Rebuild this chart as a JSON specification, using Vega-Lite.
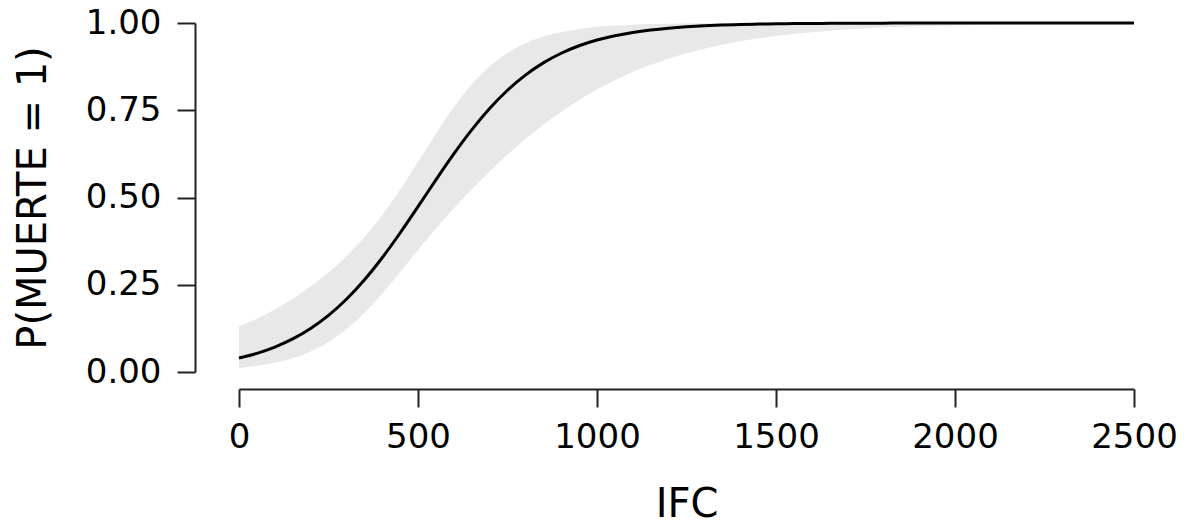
{
  "$schema": "https://vega.github.io/schema/vega-lite/v6.json",
  "width": 895,
  "height": 349,
  "autosize": "none",
  "padding": {"left": 239, "top": 23, "right": 61, "bottom": 157},
  "background": "white",
  "config": {
    "view": {"stroke": null},
    "font": "DejaVu Sans",
    "axis": {
      "grid": false,
      "domainColor": "#222222",
      "domainWidth": 2,
      "tickColor": "#222222",
      "tickWidth": 2,
      "tickSize": 18,
      "labelFont": "DejaVu Sans",
      "labelFontSize": 34,
      "labelColor": "black",
      "titleFont": "DejaVu Sans",
      "titleFontSize": 40,
      "titleFontWeight": "normal",
      "titleColor": "black"
    }
  },
  "data": {
    "values": [
      {"x": 0, "p": 0.0399, "lo": 0.0114, "hi": 0.1301},
      {"x": 50, "p": 0.0535, "lo": 0.0174, "hi": 0.1528},
      {"x": 100, "p": 0.0714, "lo": 0.0264, "hi": 0.1793},
      {"x": 150, "p": 0.0947, "lo": 0.0396, "hi": 0.2097},
      {"x": 200, "p": 0.1246, "lo": 0.0588, "hi": 0.2448},
      {"x": 250, "p": 0.1621, "lo": 0.0858, "hi": 0.2852},
      {"x": 300, "p": 0.2083, "lo": 0.1223, "hi": 0.3320},
      {"x": 350, "p": 0.2636, "lo": 0.1691, "hi": 0.3863},
      {"x": 400, "p": 0.3274, "lo": 0.2250, "hi": 0.4494},
      {"x": 450, "p": 0.3983, "lo": 0.2865, "hi": 0.5219},
      {"x": 500, "p": 0.4738, "lo": 0.3494, "hi": 0.6015},
      {"x": 550, "p": 0.5505, "lo": 0.4105, "hi": 0.6828},
      {"x": 600, "p": 0.6248, "lo": 0.4686, "hi": 0.7587},
      {"x": 650, "p": 0.6937, "lo": 0.5234, "hi": 0.8236},
      {"x": 700, "p": 0.7549, "lo": 0.5748, "hi": 0.8753},
      {"x": 750, "p": 0.8073, "lo": 0.6228, "hi": 0.9140},
      {"x": 800, "p": 0.8507, "lo": 0.6674, "hi": 0.9418},
      {"x": 850, "p": 0.8857, "lo": 0.7084, "hi": 0.9611},
      {"x": 900, "p": 0.9133, "lo": 0.7457, "hi": 0.9743},
      {"x": 950, "p": 0.9348, "lo": 0.7793, "hi": 0.9831},
      {"x": 1000, "p": 0.9512, "lo": 0.8094, "hi": 0.9889},
      {"x": 1050, "p": 0.9637, "lo": 0.8361, "hi": 0.9928},
      {"x": 1100, "p": 0.9730, "lo": 0.8596, "hi": 0.9953},
      {"x": 1150, "p": 0.9800, "lo": 0.8801, "hi": 0.9970},
      {"x": 1200, "p": 0.9852, "lo": 0.8979, "hi": 0.9980},
      {"x": 1250, "p": 0.9891, "lo": 0.9133, "hi": 0.9987},
      {"x": 1300, "p": 0.9920, "lo": 0.9265, "hi": 0.9992},
      {"x": 1350, "p": 0.9941, "lo": 0.9379, "hi": 0.9995},
      {"x": 1400, "p": 0.9956, "lo": 0.9476, "hi": 0.9997},
      {"x": 1450, "p": 0.9968, "lo": 0.9558, "hi": 0.9998},
      {"x": 1500, "p": 0.9976, "lo": 0.9627, "hi": 0.9999},
      {"x": 1550, "p": 0.9983, "lo": 0.9686, "hi": 0.9999},
      {"x": 1600, "p": 0.9987, "lo": 0.9736, "hi": 0.9999},
      {"x": 1650, "p": 0.9991, "lo": 0.9778, "hi": 1.0},
      {"x": 1700, "p": 0.9993, "lo": 0.9814, "hi": 1.0},
      {"x": 1750, "p": 0.9995, "lo": 0.9844, "hi": 1.0},
      {"x": 1800, "p": 0.9996, "lo": 0.9869, "hi": 1.0},
      {"x": 1850, "p": 0.9997, "lo": 0.9890, "hi": 1.0},
      {"x": 1900, "p": 0.9998, "lo": 0.9908, "hi": 1.0},
      {"x": 1950, "p": 0.9999, "lo": 0.9923, "hi": 1.0},
      {"x": 2000, "p": 0.9999, "lo": 0.9935, "hi": 1.0},
      {"x": 2050, "p": 0.9999, "lo": 0.9946, "hi": 1.0},
      {"x": 2100, "p": 0.9999, "lo": 0.9955, "hi": 1.0},
      {"x": 2150, "p": 1.0, "lo": 0.9962, "hi": 1.0},
      {"x": 2200, "p": 1.0, "lo": 0.9968, "hi": 1.0},
      {"x": 2250, "p": 1.0, "lo": 0.9973, "hi": 1.0},
      {"x": 2300, "p": 1.0, "lo": 0.9978, "hi": 1.0},
      {"x": 2350, "p": 1.0, "lo": 0.9981, "hi": 1.0},
      {"x": 2400, "p": 1.0, "lo": 0.9984, "hi": 1.0},
      {"x": 2450, "p": 1.0, "lo": 0.9987, "hi": 1.0},
      {"x": 2500, "p": 1.0, "lo": 0.9989, "hi": 1.0}
    ]
  },
  "layer": [
    {
      "mark": {"type": "area", "color": "#e8e8e8", "interpolate": "monotone"},
      "encoding": {
        "x": {
          "field": "x", "type": "quantitative",
          "scale": {"domain": [0, 2500], "nice": false, "zero": false},
          "axis": {"title": "IFC", "values": [0, 500, 1000, 1500, 2000, 2500], "format": "d", "offset": 17, "labelPadding": 13, "titlePadding": 30, "labelFlush": false, "labelOverlap": false}
        },
        "y": {
          "field": "lo", "type": "quantitative",
          "scale": {"domain": [0, 1], "nice": false},
          "axis": {"title": "P(MUERTE = 1)", "values": [0, 0.25, 0.5, 0.75, 1], "format": ".2f", "offset": 44, "labelPadding": 16, "titlePadding": 32, "labelFlush": false, "labelOverlap": false}
        },
        "y2": {"field": "hi"}
      }
    },
    {
      "mark": {"type": "line", "color": "black", "strokeWidth": 3, "interpolate": "monotone"},
      "encoding": {
        "x": {"field": "x", "type": "quantitative"},
        "y": {"field": "p", "type": "quantitative"}
      }
    }
  ]
}
